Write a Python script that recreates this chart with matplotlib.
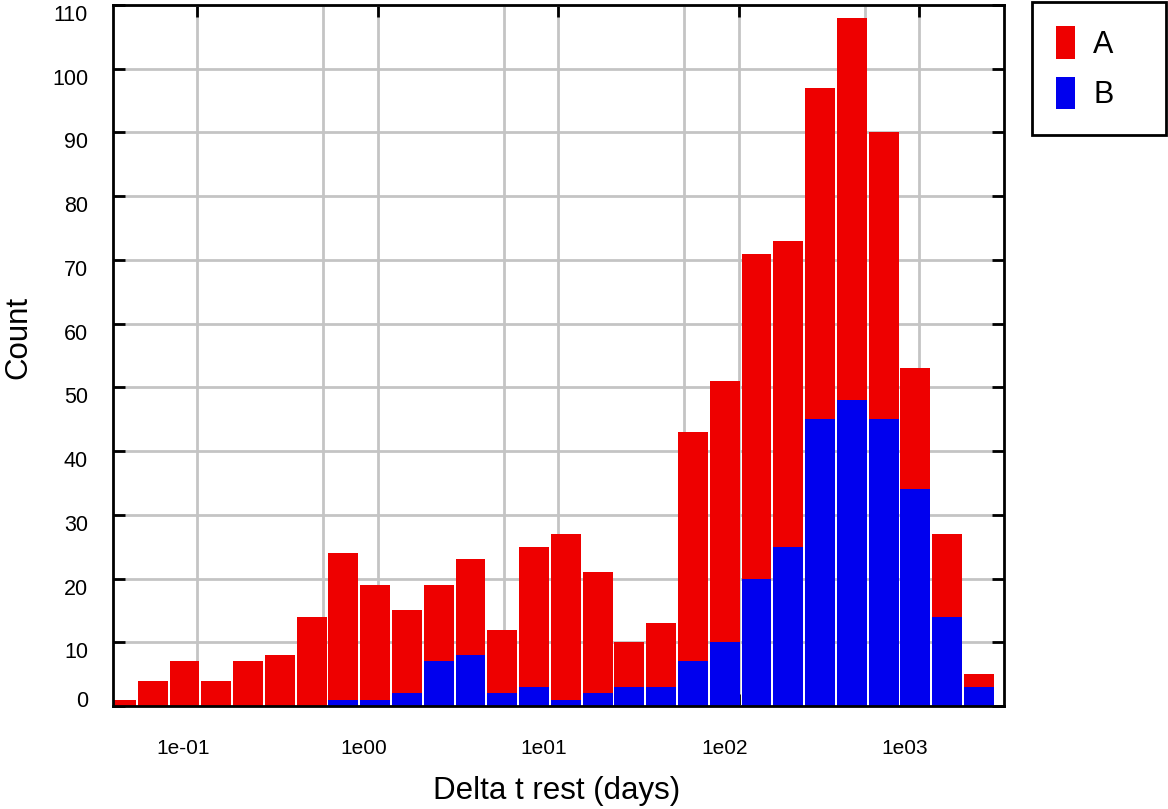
import matplotlib
matplotlib.use("Agg")
import matplotlib.pyplot as plt
import matplotlib.transforms as mtransforms
import numpy as np

plt.rcParams['font.family'] = ['Liberation Sans', 'DejaVu Sans']

# log-spaced bins, ratio 1.5 between edges
bin_edges = 0.0309 * 1.5 ** np.arange(29)

# counts per bin (B at the bottom, A stacked on top)
count_b = [0, 0, 0, 0, 0, 0, 0, 1, 1, 2, 7, 8, 2, 3, 1, 2, 3, 3, 7, 10,
           20, 25, 45, 48, 45, 34, 14, 3]
count_a = [1, 4, 7, 4, 7, 8, 14, 23, 18, 13, 12, 15, 10, 22, 26, 19, 7, 10,
           36, 41, 51, 48, 52, 60, 45, 19, 13, 2]

xticks = [0.1, 1, 10, 100, 1000]
xtick_labels = ['1e-01', '1e00', '1e01', '1e02', '1e03']
xgrid_minor = [0.5, 5, 50, 500]
yticks = np.arange(0, 111, 10)

red = '#ee0000'
blue = '#0000ee'

fig = plt.figure(figsize=(11.68, 8.09), dpi=100)
ax = fig.add_axes([113 / 1168, 1 - 706 / 809, (1004 - 113) / 1168, (706 - 5) / 809])

# leave a thin white gap between neighbouring bins
gap = 1.012
left = bin_edges[:-1] * gap
right = bin_edges[1:] / gap
widths = right - left

ax.bar(left, count_b, width=widths, align='edge', color=blue, linewidth=0, label='B')
ax.bar(left, count_a, width=widths, bottom=count_b, align='edge', color=red,
       linewidth=0, label='A')

ax.set_xscale('log')
ax.set_xlim(0.0342, 2958)
ax.set_ylim(0, 110)

ax.set_xticks(xticks)
ax.set_xticklabels(xtick_labels)
ax.set_xticks(xgrid_minor, minor=True)
ax.set_xticklabels([], minor=True)
ax.set_yticks(yticks)

ax.set_axisbelow(True)
ax.grid(True, which='both', color='#c4c4c4', linewidth=2)

ax.tick_params(axis='both', which='major', direction='in', length=8.5, width=2,
               top=True, right=True)
ax.tick_params(axis='x', which='minor', length=0)
ax.tick_params(axis='x', which='major', pad=24, labelsize=15)
ax.tick_params(axis='y', which='major', pad=18, labelsize=15.5)

# nudge tick labels: x labels a bit left, y labels a bit down (0 a bit up)
shift_x = mtransforms.ScaledTranslation(-14 / 100, 0, fig.dpi_scale_trans)
for lbl in ax.get_xticklabels():
    lbl.set_transform(lbl.get_transform() + shift_x)
for val, lbl in zip(yticks, ax.get_yticklabels()):
    dy = 7 if val == 0 else -8
    lbl.set_transform(lbl.get_transform() +
                      mtransforms.ScaledTranslation(0, dy / 100, fig.dpi_scale_trans))

for sp in ax.spines.values():
    sp.set_linewidth(2)
    sp.set_color('black')

ax.set_xlabel('Delta t rest (days)', fontsize=22.5)
ax.set_ylabel('Count', fontsize=22.5)
ax.xaxis.set_label_coords(0.498, -0.1)
ax.yaxis.set_label_coords(-0.0898, 0.526)

handles, labels = ax.get_legend_handles_labels()
leg = fig.legend(handles[::-1], labels[::-1], loc='upper left',
                 bbox_to_anchor=(1032 / 1168, 1 - 134 / 809, 134 / 1168, 132 / 809),
                 mode='expand', borderaxespad=0, fontsize=22,
                 handlelength=0.6, handleheight=1.25, handletextpad=0.6,
                 labelspacing=0.55, borderpad=0.8, fancybox=False,
                 edgecolor='black', framealpha=1)
leg.get_frame().set_linewidth(2)

fig.savefig('out.png', dpi=100)
